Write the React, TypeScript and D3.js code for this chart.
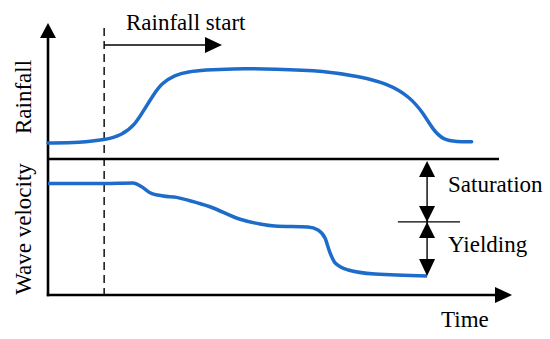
import React from 'react';
import * as d3 from 'd3';

// time in arbitrary units (0..100), values in % of panel height
const rainTime = [0, 6.9, 12.3, 15.9, 18.75, 20.9, 22.7, 24.5, 27.3, 30.2, 33.8, 39.2, 48.9, 59.7, 67.2, 73.0, 78.0, 80.9, 83.0, 85.2, 88.1, 91.3];
const rainValue = [11.8, 12.1, 14.0, 17.6, 25, 37.3, 47.1, 55.7, 61.8, 64.2, 65.4, 66.5, 66.2, 64.9, 60.5, 55.7, 45.8, 33.6, 21.3, 14.0, 12.7, 12.7];

const waveTime = [0, 12.1, 18.3, 20.2, 22.0, 24.8, 27.7, 30.6, 34.9, 41.4, 45.7, 48.9, 56.0, 58.2, 59.7, 60.8, 61.9, 64.7, 70.5, 81.7];
const waveValue = [82.0, 82.0, 82.4, 79.6, 75.2, 72.8, 71.8, 69.3, 64.9, 55.7, 52.2, 50.7, 50, 47.8, 41.9, 30.9, 23.5, 18.4, 15.4, 14];

const rainStartTime = 12.1;
const rainArrowEnd = 37.5;
const markTime = 81.7;
const yieldLevel = 53.7;
const tickSpan = [75.4, 88.8];
const dividerEnd = 97.2;

const labels = {
  rain: 'Rainfall',
  wave: 'Wave velocity',
  start: 'Rainfall start',
  saturation: 'Saturation',
  yielding: 'Yielding',
  time: 'Time',
};

const W = 550;
const H = 339;
const font = "'Liberation Serif', 'DejaVu Serif', serif";
const blue = '#1d6cc9';

export default function App() {
  const x = d3.scaleLinear().domain([0, 100]).range([48, 512]);
  const yRain = d3.scaleLinear().domain([0, 100]).range([159, 23]);
  const yWave = d3.scaleLinear().domain([0, 100]).range([295, 159]);

  const rainLine = d3.line<number>()
    .x((_, i) => x(rainTime[i]))
    .y((d) => yRain(d))
    .curve(d3.curveBasis);
  const waveLine = d3.line<number>()
    .x((_, i) => x(waveTime[i]))
    .y((d) => yWave(d))
    .curve(d3.curveMonotoneX);

  const tri = (tx: number, ty: number, dir: 'up' | 'down' | 'right', len = 16, half = 8) => {
    let pts: number[][];
    if (dir === 'up') pts = [[tx, ty], [tx - half, ty + len], [tx + half, ty + len]];
    else if (dir === 'down') pts = [[tx, ty], [tx - half, ty - len], [tx + half, ty - len]];
    else pts = [[tx, ty], [tx - len, ty - half], [tx - len, ty + half]];
    return <polygon points={pts.map((p) => p.join(',')).join(' ')} fill="#000" />;
  };

  const mx = x(markTime);
  const yTop = yWave(100);
  const yMid = yWave(yieldLevel);
  const yEnd = yWave(waveValue[waveValue.length - 1]);
  const txt = { fontFamily: font, fontSize: 23 };

  return (
    <svg width={W} height={H} style={{ position: 'absolute', left: 0, top: 0, background: '#fff' }}>
      {/* axes */}
      <line x1={x(0)} x2={x(0)} y1={yRain(100) + 10} y2={yWave(0) + 1.2} stroke="#000" strokeWidth={2.6} />
      {tri(x(0), yRain(100), 'up', 15, 8)}
      <line x1={x(0) - 1.2} x2={x(100) - 12} y1={yWave(0)} y2={yWave(0)} stroke="#000" strokeWidth={2.6} />
      {tri(x(100), yWave(0), 'right', 17, 8)}
      <line x1={x(0)} x2={x(dividerEnd)} y1={yRain(0)} y2={yRain(0)} stroke="#000" strokeWidth={2.4} />

      {/* rainfall start marker */}
      <line x1={x(rainStartTime)} x2={x(rainStartTime)} y1={28} y2={yWave(0)} stroke="#000" strokeWidth={1.4} strokeDasharray="8,5" />
      <line x1={x(rainStartTime)} x2={x(rainArrowEnd) - 10} y1={45} y2={45} stroke="#000" strokeWidth={1.4} />
      {tri(x(rainArrowEnd), 45, 'right', 17, 8)}
      <text x={126} y={30} style={txt}>{labels.start}</text>

      {/* curves */}
      <path d={rainLine(rainValue) ?? ''} fill="none" stroke={blue} strokeWidth={3.5} strokeLinecap="round" />
      <path d={waveLine(waveValue) ?? ''} fill="none" stroke={blue} strokeWidth={3.5} strokeLinecap="butt" />

      {/* saturation / yielding */}
      <line x1={mx} x2={mx} y1={yTop + 8} y2={yEnd - 8} stroke="#000" strokeWidth={1.4} />
      {tri(mx, yTop + 2, 'up', 16, 8)}
      {tri(mx, yMid, 'down', 16, 8)}
      {tri(mx, yMid, 'up', 16, 8)}
      {tri(mx, yEnd, 'down', 17, 8)}
      <line x1={x(tickSpan[0])} x2={x(tickSpan[1])} y1={yMid} y2={yMid} stroke="#000" strokeWidth={1.2} />
      <text x={448} y={192} style={txt}>{labels.saturation}</text>
      <text x={448} y={252} style={txt}>{labels.yielding}</text>
      <text x={441} y={327} style={txt}>{labels.time}</text>

      {/* y labels */}
      <text transform={`translate(31,${(yRain(0) + yRain(100)) / 2 + 6}) rotate(-90)`} textAnchor="middle" style={txt}>{labels.rain}</text>
      <text transform={`translate(31,${(yWave(0) + yWave(100)) / 2 + 2}) rotate(-90)`} textAnchor="middle" style={txt}>{labels.wave}</text>
    </svg>
  );
}
